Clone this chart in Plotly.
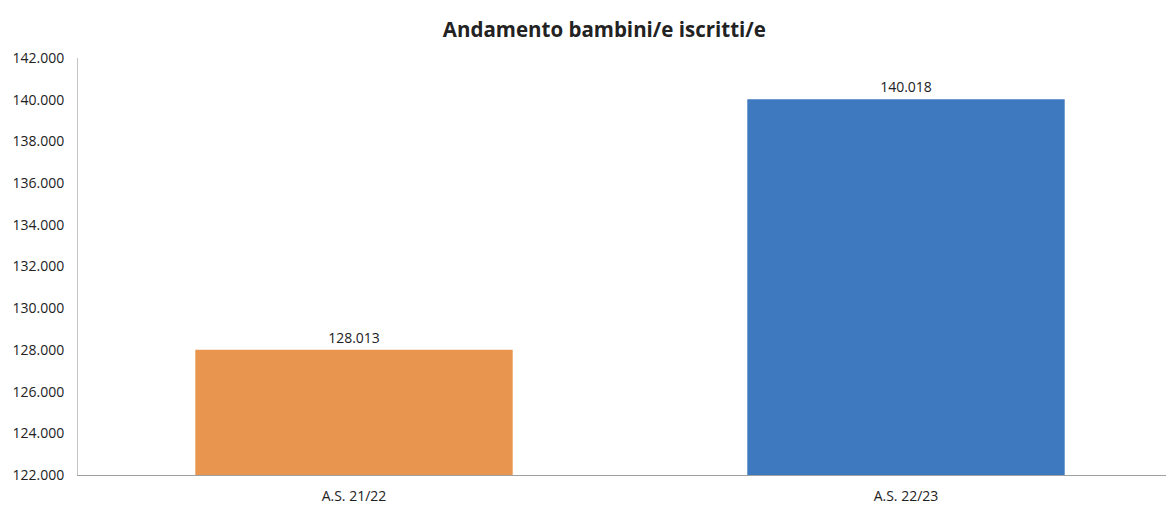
import plotly.graph_objects as go

categories = ["A.S. 21/22", "A.S. 22/23"]
values = [128013, 140018]
bar_colors = ["#E8964F", "#3E78BF"]
y_ticks = list(range(122000, 142001, 2000))

fig = go.Figure(go.Bar(
    x=categories,
    y=values,
    marker=dict(color=bar_colors, line=dict(width=0)),
    width=0.575,
    text=values,
    texttemplate="%{y:,.0f}",
    textposition="outside",
    textfont=dict(family="Open Sans", size=14, color="#222222"),
    cliponaxis=False,
))

fig.update_layout(
    width=1174, height=508,
    separators=",.",
    paper_bgcolor="white", plot_bgcolor="white",
    margin=dict(l=70, r=0, t=50, b=41),
    title=dict(text="<b>Andamento bambini/e iscritti/e</b>", x=0.508, xanchor="center",
               y=1 - 22 / 508, yanchor="middle",
               font=dict(family="Open Sans", size=20.5, color="#222222")),
    showlegend=False,
)
fig.update_yaxes(
    range=[122000, 142000], tickvals=y_ticks, tickformat=",.0f",
    showgrid=False, zeroline=False, automargin=False,
    showline=True, linecolor="#C4C4C4", linewidth=1,
    tickfont=dict(family="Open Sans", size=14, color="#222222"),
    ticks="", ticklabelstandoff=10,
)
fig.update_xaxes(
    showline=True, linecolor="#A0A0A0", linewidth=1, automargin=False,
    showgrid=False, ticks="", ticklabelstandoff=8,
    tickfont=dict(family="Open Sans", size=14, color="#222222"),
)

fig.write_html("out.html")
